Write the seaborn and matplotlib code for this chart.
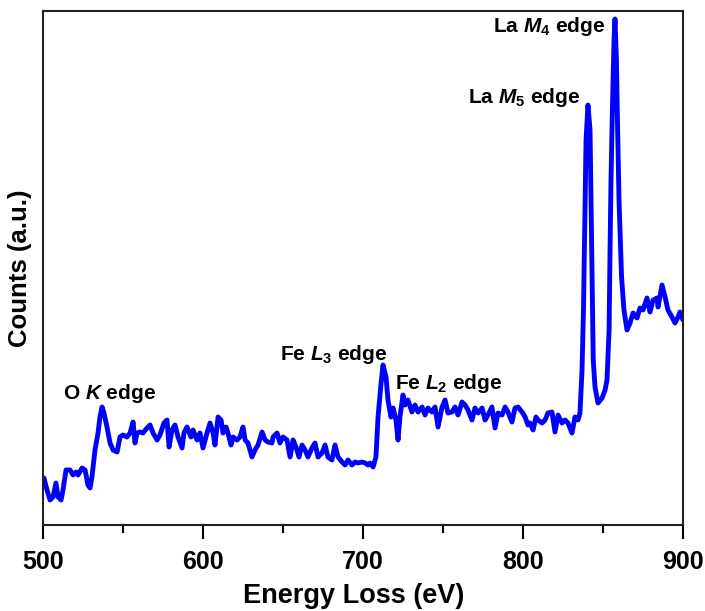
import numpy as np
import pandas as pd
import matplotlib
matplotlib.use("Agg")
import matplotlib.pyplot as plt
import seaborn as sns
from matplotlib.ticker import MultipleLocator

# ---- data ----
energy = [500.6, 502.5, 504.4, 506.3, 508.1, 509.4, 511.3, 512.5, 514.4, 516.9,
          518.8, 520.6, 521.9, 524.4, 526.3, 528.1, 529.4, 530.6, 532.5, 534.4,
          535.6, 536.9, 538.1, 540.0, 541.9, 543.8, 546.3, 548.1, 550.0, 552.5,
          554.4, 556.3, 557.5, 558.8, 560.6, 562.5, 565.0, 566.9, 568.8, 571.3,
          573.1, 575.6, 577.5, 578.8, 580.6, 582.5, 584.4, 586.9, 588.1, 590.0,
          592.5, 593.8, 596.3, 598.1, 600.0, 602.5, 604.4, 606.3, 607.5, 609.4,
          611.3, 612.5, 614.4, 615.6, 617.5, 618.8, 621.3, 623.1, 625.0, 626.3,
          628.1, 630.6, 632.5, 634.4, 636.9, 638.8, 640.6, 643.1, 643.8, 646.3,
          648.1, 650.0, 652.5, 654.4, 656.3, 658.1, 660.0, 661.9, 663.8, 665.6,
          668.1, 670.0, 671.9, 674.4, 676.3, 678.1, 680.6, 682.5, 684.4, 686.9,
          688.8, 690.6, 693.1, 695.0, 696.9, 699.4, 701.3, 703.1, 704.4, 706.3,
          708.1, 709.4, 711.3, 712.5, 714.4, 715.6, 717.5, 718.8, 720.6, 721.9,
          723.1, 725.0, 726.3, 728.1, 730.6, 732.5, 734.4, 736.9, 738.8, 740.6,
          743.1, 745.0, 746.9, 749.4, 751.3, 753.1, 755.6, 757.5, 759.4, 761.9,
          763.8, 765.6, 768.1, 770.0, 771.9, 774.4, 776.3, 778.1, 780.6, 782.5,
          784.4, 786.9, 788.8, 790.6, 793.1, 795.0, 796.9, 799.4, 801.3, 803.1,
          804.4, 806.3, 808.1, 809.4, 811.9, 813.8, 815.6, 818.1, 820.0, 821.9,
          824.4, 826.3, 828.1, 830.6, 832.5, 834.4, 835.6, 836.9, 837.8, 838.8,
          839.4, 840.6, 841.9, 842.5, 843.4, 843.9, 845.0, 846.9, 849.4, 851.3,
          852.5, 853.8, 854.4, 855.0, 856.0, 856.9, 857.5, 858.4, 858.8, 860.0,
          861.6, 863.1, 865.0, 866.9, 868.8, 871.3, 873.1, 875.0, 877.5, 879.4,
          881.3, 883.8, 884.4, 886.9, 888.8, 890.6, 893.1, 895.0, 896.9, 898.1,
          900.0]
counts = [40, 28, 18, 21, 35, 21, 18, 28, 48, 48,
          43, 46, 43, 50, 48, 33, 30, 41, 68, 85,
          101, 111, 105, 91, 75, 68, 66, 81, 83, 81,
          85, 96, 75, 85, 86, 85, 90, 93, 85, 78,
          83, 95, 98, 71, 88, 93, 81, 70, 85, 91,
          81, 88, 78, 85, 70, 85, 95, 85, 73, 101,
          98, 85, 91, 85, 73, 81, 78, 81, 91, 78,
          75, 61, 68, 73, 86, 78, 76, 75, 81, 85,
          75, 81, 78, 61, 78, 71, 61, 73, 68, 61,
          70, 75, 61, 65, 73, 61, 58, 73, 61, 56,
          53, 58, 53, 56, 55, 56, 55, 53, 55, 51,
          61, 101, 135, 153, 141, 118, 101, 110, 98, 78,
          101, 123, 113, 118, 106, 113, 106, 111, 103, 110,
          106, 111, 91, 111, 118, 105, 106, 111, 103, 116,
          113, 108, 98, 110, 105, 110, 98, 103, 111, 90,
          105, 103, 111, 106, 96, 110, 111, 106, 101, 93,
          95, 88, 101, 98, 95, 98, 105, 106, 86, 103,
          95, 98, 95, 85, 101, 98, 105, 148, 208, 318,
          378, 413, 388, 318, 208, 158, 131, 115, 120, 128,
          138, 188, 268, 338, 418, 478, 499, 458, 418, 318,
          241, 208, 188, 195, 205, 200, 210, 208, 220, 206,
          218, 220, 211, 233, 221, 208, 201, 195, 201, 206,
          198]

xticks = [500, 600, 700, 800, 900]
xtick_labels = ["500", "600", "700", "800", "900"]

labels = ["O $K$ edge", "Fe $L_3$ edge", "Fe $L_2$ edge", "La $M_5$ edge", "La $M_4$ edge"]
label_x = [512.5, 648.1, 720.0, 765.6, 781.3]
label_y = [119, 158, 129, 415, 486]

df = pd.DataFrame({"Energy": energy, "Counts": counts})

# ---- style ----
sns.set_style("white")
plt.rcParams["font.family"] = ["Liberation Sans", "DejaVu Sans"]
plt.rcParams["font.weight"] = "bold"
plt.rcParams["text.color"] = "black"
plt.rcParams["axes.labelcolor"] = "black"
plt.rcParams["xtick.color"] = "black"
plt.rcParams["mathtext.fontset"] = "custom"
plt.rcParams["mathtext.rm"] = "Liberation Sans:bold"
plt.rcParams["mathtext.it"] = "Liberation Sans:italic:bold"
plt.rcParams["mathtext.bf"] = "Liberation Sans:bold"

fig = plt.figure(figsize=(7.05, 6.11), dpi=100)
ax = fig.add_axes([43 / 705, 86 / 611, 640 / 705, 514 / 611])

sns.lineplot(data=df, x="Energy", y="Counts", ax=ax, color="#0000FF",
             linewidth=3.5, estimator=None, sort=False)

ax.set_xlim(500, 900)
ax.set_ylim(-7, 507)
ax.set_xticks(xticks)
ax.set_xticklabels(xtick_labels)
ax.xaxis.set_minor_locator(MultipleLocator(50))
ax.set_yticks([])
ax.tick_params(axis="x", which="major", direction="out", length=10, width=1.5,
               labelsize=18, pad=8, bottom=True, colors="black")
ax.tick_params(axis="x", which="minor", direction="out", length=6, width=1.5,
               bottom=True, colors="black")
for lab in ax.get_xticklabels():
    lab.set_fontweight("bold")
    lab.set_color("black")

for sp in ax.spines.values():
    sp.set_visible(True)
    sp.set_linewidth(1.5)
    sp.set_color("#222222")

ax.set_xlabel("Energy Loss (eV)", fontsize=19.5, fontweight="bold", color="black")
ax.set_ylabel("Counts (a.u.)", fontsize=18.5, fontweight="bold", color="black")
ax.xaxis.set_label_coords(0.486, -0.112)
ax.yaxis.set_label_coords(-0.017, 0.5)

for t, xx, yy in zip(labels, label_x, label_y):
    ax.text(xx, yy, t, fontsize=15, fontweight="bold", ha="left", va="baseline",
            color="black")

fig.savefig("out.png", dpi=100)
